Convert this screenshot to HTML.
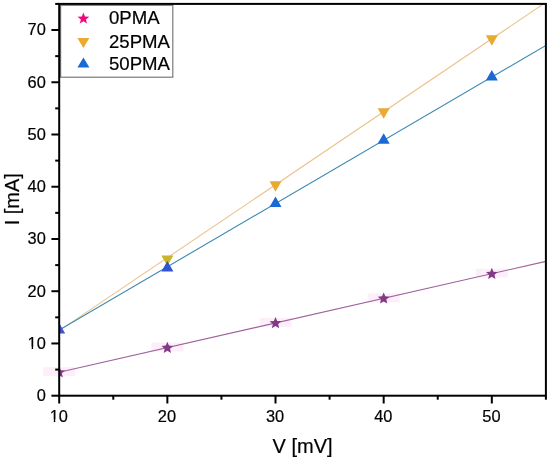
<!DOCTYPE html><html><head><meta charset="utf-8"><style>html,body{margin:0;padding:0;background:#fff;}svg{display:block;will-change:transform;}text{font-family:"Liberation Sans",sans-serif;fill:#000;stroke:#000;stroke-width:0.2px;}</style></head><body>
<svg width="550" height="459" viewBox="0 0 550 459">
<rect width="550" height="459" fill="#fff"/>
<defs><clipPath id="c"><rect x="59.2" y="3.9" width="486.7" height="391.8"/></clipPath></defs>
<rect x="43.2" y="367.2" width="32" height="9" fill="#fbd6f2" opacity="0.4"/>
<rect x="151.4" y="342.6" width="32" height="9" fill="#fbd6f2" opacity="0.4"/>
<rect x="259.5" y="317.9" width="32" height="9" fill="#fbd6f2" opacity="0.4"/>
<rect x="367.7" y="293.3" width="32" height="9" fill="#fbd6f2" opacity="0.4"/>
<rect x="475.8" y="268.7" width="32" height="9" fill="#fbd6f2" opacity="0.4"/>
<g clip-path="url(#c)">
<line x1="59.20" y1="372.19" x2="545.90" y2="261.35" stroke="#a0609a" stroke-width="1.1"/>
<line x1="59.20" y1="330.66" x2="545.90" y2="2.25" stroke="#edc38e" stroke-width="1.1"/>
<line x1="59.20" y1="330.03" x2="545.90" y2="45.35" stroke="#3a88b0" stroke-width="1.1"/>
<polygon points="161.36,255.38 173.36,255.38 167.36,265.88" fill="#c9b52a"/>
<polygon points="269.51,181.20 281.51,181.20 275.51,191.70" fill="#eaa931"/>
<polygon points="377.67,108.22 389.67,108.22 383.67,118.72" fill="#eaa931"/>
<polygon points="485.82,35.24 497.82,35.24 491.82,45.74" fill="#eaa931"/>
<polygon points="53.20,333.53 65.20,333.53 59.20,323.03" fill="#4452cf"/>
<polygon points="161.36,271.47 173.36,271.47 167.36,260.97" fill="#2f55d2"/>
<polygon points="269.51,207.01 281.51,207.01 275.51,196.51" fill="#1a69d5"/>
<polygon points="377.67,143.75 389.67,143.75 383.67,133.25" fill="#1a69d5"/>
<polygon points="485.82,80.48 497.82,80.48 491.82,69.98" fill="#1a69d5"/>
<polygon points="59.20,366.29 60.84,370.23 65.10,370.58 61.85,373.35 62.84,377.51 59.20,375.28 55.56,377.51 56.55,373.35 53.30,370.58 57.56,370.23" fill="#833a84"/>
<polygon points="167.36,341.66 169.00,345.60 173.25,345.94 170.01,348.72 171.00,352.88 167.36,350.65 163.71,352.88 164.70,348.72 161.46,345.94 165.72,345.60" fill="#833a84"/>
<polygon points="275.51,317.03 277.15,320.97 281.41,321.31 278.16,324.09 279.16,328.25 275.51,326.02 271.87,328.25 272.86,324.09 269.61,321.31 273.87,320.97" fill="#833a84"/>
<polygon points="383.67,292.40 385.31,296.34 389.56,296.68 386.32,299.46 387.31,303.61 383.67,301.39 380.02,303.61 381.01,299.46 377.77,296.68 382.03,296.34" fill="#833a84"/>
<polygon points="491.82,267.77 493.46,271.71 497.72,272.05 494.48,274.83 495.47,278.98 491.82,276.76 488.18,278.98 489.17,274.83 485.93,272.05 490.18,271.71" fill="#833a84"/>
</g>
<rect x="60.6" y="5.3" width="112.20" height="71.90" fill="#fff" stroke="#7a7a7a" stroke-width="1.2"/>
<polygon points="83.40,12.40 84.93,16.49 89.30,16.68 85.88,19.40 87.04,23.62 83.40,21.20 79.76,23.62 80.92,19.40 77.50,16.68 81.87,16.49" fill="#ee0a7a"/>
<polygon points="77.40,38.00 89.40,38.00 83.40,48.00" fill="#eaa931"/>
<polygon points="77.40,67.60 89.40,67.60 83.40,57.60" fill="#1a69d5"/>
<text x="109" y="24.4" font-size="18.6">0PMA</text>
<text x="109" y="48.0" font-size="18.6">25PMA</text>
<text x="109" y="70.1" font-size="18.6">50PMA</text>
<rect x="59.2" y="3.9" width="486.7" height="391.8" fill="none" stroke="#000" stroke-width="2"/>
<line x1="59.20" y1="395.7" x2="59.20" y2="403.5" stroke="#000" stroke-width="2"/>
<line x1="113.28" y1="395.7" x2="113.28" y2="399.7" stroke="#000" stroke-width="2"/>
<line x1="167.36" y1="395.7" x2="167.36" y2="403.5" stroke="#000" stroke-width="2"/>
<line x1="221.43" y1="395.7" x2="221.43" y2="399.7" stroke="#000" stroke-width="2"/>
<line x1="275.51" y1="395.7" x2="275.51" y2="403.5" stroke="#000" stroke-width="2"/>
<line x1="329.59" y1="395.7" x2="329.59" y2="399.7" stroke="#000" stroke-width="2"/>
<line x1="383.67" y1="395.7" x2="383.67" y2="403.5" stroke="#000" stroke-width="2"/>
<line x1="437.74" y1="395.7" x2="437.74" y2="399.7" stroke="#000" stroke-width="2"/>
<line x1="491.82" y1="395.7" x2="491.82" y2="403.5" stroke="#000" stroke-width="2"/>
<line x1="545.90" y1="395.7" x2="545.90" y2="399.7" stroke="#000" stroke-width="2"/>
<text x="58.80" y="421.5" font-size="16.4" text-anchor="middle">10</text>
<text x="166.96" y="421.5" font-size="16.4" text-anchor="middle">20</text>
<text x="275.11" y="421.5" font-size="16.4" text-anchor="middle">30</text>
<text x="383.27" y="421.5" font-size="16.4" text-anchor="middle">40</text>
<text x="491.42" y="421.5" font-size="16.4" text-anchor="middle">50</text>
<line x1="59.2" y1="395.70" x2="51.400000000000006" y2="395.70" stroke="#000" stroke-width="2"/>
<line x1="59.2" y1="369.58" x2="55.2" y2="369.58" stroke="#000" stroke-width="2"/>
<line x1="59.2" y1="343.46" x2="51.400000000000006" y2="343.46" stroke="#000" stroke-width="2"/>
<line x1="59.2" y1="317.34" x2="55.2" y2="317.34" stroke="#000" stroke-width="2"/>
<line x1="59.2" y1="291.22" x2="51.400000000000006" y2="291.22" stroke="#000" stroke-width="2"/>
<line x1="59.2" y1="265.10" x2="55.2" y2="265.10" stroke="#000" stroke-width="2"/>
<line x1="59.2" y1="238.98" x2="51.400000000000006" y2="238.98" stroke="#000" stroke-width="2"/>
<line x1="59.2" y1="212.86" x2="55.2" y2="212.86" stroke="#000" stroke-width="2"/>
<line x1="59.2" y1="186.74" x2="51.400000000000006" y2="186.74" stroke="#000" stroke-width="2"/>
<line x1="59.2" y1="160.62" x2="55.2" y2="160.62" stroke="#000" stroke-width="2"/>
<line x1="59.2" y1="134.50" x2="51.400000000000006" y2="134.50" stroke="#000" stroke-width="2"/>
<line x1="59.2" y1="108.38" x2="55.2" y2="108.38" stroke="#000" stroke-width="2"/>
<line x1="59.2" y1="82.26" x2="51.400000000000006" y2="82.26" stroke="#000" stroke-width="2"/>
<line x1="59.2" y1="56.14" x2="55.2" y2="56.14" stroke="#000" stroke-width="2"/>
<line x1="59.2" y1="30.02" x2="51.400000000000006" y2="30.02" stroke="#000" stroke-width="2"/>
<line x1="59.2" y1="3.90" x2="55.2" y2="3.90" stroke="#000" stroke-width="2"/>
<text x="45.8" y="401.00" font-size="16.4" text-anchor="end">0</text>
<text x="45.8" y="348.76" font-size="16.4" text-anchor="end">10</text>
<text x="45.8" y="296.52" font-size="16.4" text-anchor="end">20</text>
<text x="45.8" y="244.28" font-size="16.4" text-anchor="end">30</text>
<text x="45.8" y="192.04" font-size="16.4" text-anchor="end">40</text>
<text x="45.8" y="139.80" font-size="16.4" text-anchor="end">50</text>
<text x="45.8" y="87.56" font-size="16.4" text-anchor="end">60</text>
<text x="45.8" y="35.32" font-size="16.4" text-anchor="end">70</text>
<rect x="50.08" y="419.37" width="3.70" height="2.73" fill="#fff"/>
<rect x="55.28" y="419.37" width="3.67" height="2.73" fill="#fff"/>
<rect x="27.96" y="346.63" width="3.70" height="2.73" fill="#fff"/>
<rect x="33.16" y="346.63" width="3.67" height="2.73" fill="#fff"/>
<text x="302.55" y="452.9" font-size="20" text-anchor="middle">V [mV]</text>
<text transform="translate(19.1,199.20) rotate(-90)" font-size="20" text-anchor="middle">I [mA]</text>
</svg></body></html>
